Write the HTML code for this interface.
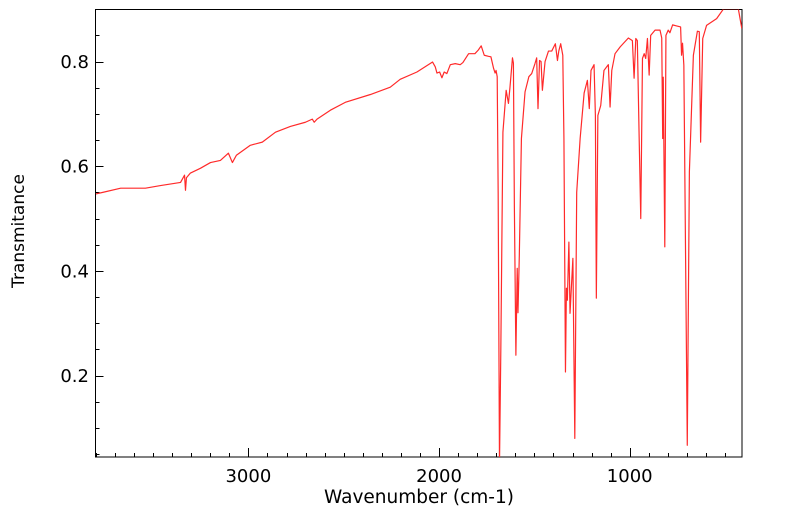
<!DOCTYPE html>
<html><head><meta charset="utf-8"><style>
html,body{margin:0;padding:0;background:#fff;}
svg{display:block;font-family:"DejaVu Sans","Liberation Sans",sans-serif;}
</style></head>
<body>
<svg id="chart" width="799" height="516" viewBox="0 0 799 516" xmlns="http://www.w3.org/2000/svg">
<defs><clipPath id="plotclip"><rect x="95" y="9.5" width="647" height="447.5"/></clipPath></defs>
<rect x="95.5" y="9.5" width="646.5" height="447.5" fill="none" stroke="#000" stroke-width="1"/>
<g id="ticks"></g>
<path id="spectrum" clip-path="url(#plotclip)" fill="none" stroke="#ff2a2a" stroke-width="1.2" stroke-linejoin="round"/>
<text x="419" y="503" font-size="18.5" text-anchor="middle" fill="#000">Wavenumber (cm-1)</text>
<text transform="translate(24,231) rotate(-90)" font-size="17" text-anchor="middle" fill="#000">Transmitance</text>
</svg>
<script>
const wavenumbers = [3800,3764,3670,3540,3461,3356,3335,3330,3325,3304,3252,3199,3147,3105,3084,3063,2990,2927,2858,2780,2701,2665,2655,2640,2570,2492,2360,2256,2204,2116,2034,2020,2011,1997,1985,1973,1959,1941,1915,1889,1875,1845,1812,1794,1779,1763,1741,1728,1714,1706,1701,1695,1690,1683,1676,1665,1648,1636,1628,1615,1610,1605,1597,1590,1586,1579,1568,1549,1529,1514,1497,1488,1481,1473,1465,1458,1444,1426,1409,1390,1379,1372,1362,1351,1345,1337,1332,1327,1319,1313,1298,1288,1278,1260,1239,1222,1212,1203,1187,1180,1175,1167,1152,1135,1112,1103,1094,1077,1050,1007,986,977,968,960,951,942,933,924,916,907,898,890,867,841,832,827,824,816,810,798,789,775,754,733,728,723,716,698,687,666,645,635,628,617,597,544,509,430,412];
const transmittance = [0.547,0.55,0.558,0.558,0.563,0.569,0.583,0.554,0.578,0.587,0.596,0.607,0.611,0.625,0.607,0.621,0.64,0.646,0.665,0.676,0.684,0.69,0.684,0.69,0.707,0.722,0.737,0.751,0.766,0.78,0.799,0.79,0.778,0.78,0.769,0.78,0.777,0.794,0.796,0.794,0.798,0.815,0.815,0.822,0.83,0.812,0.81,0.809,0.787,0.778,0.783,0.771,0.55,0.03,0.25,0.665,0.745,0.72,0.751,0.807,0.797,0.525,0.239,0.405,0.32,0.43,0.653,0.742,0.771,0.777,0.796,0.807,0.71,0.802,0.8,0.745,0.8,0.82,0.82,0.834,0.802,0.82,0.834,0.812,0.653,0.207,0.367,0.344,0.455,0.319,0.424,0.08,0.55,0.653,0.74,0.764,0.71,0.783,0.794,0.697,0.348,0.697,0.716,0.783,0.794,0.713,0.783,0.815,0.828,0.845,0.84,0.768,0.844,0.84,0.665,0.5,0.806,0.815,0.806,0.844,0.774,0.85,0.86,0.86,0.845,0.653,0.77,0.446,0.85,0.86,0.855,0.87,0.868,0.866,0.812,0.835,0.793,0.067,0.589,0.812,0.858,0.857,0.646,0.844,0.869,0.882,0.9,0.9,0.863];
const xMajorTicks = [3000,2000,1000];
const xTickLabels = ["3000","2000","1000"];
const yMajorTicks = [0.2,0.4,0.6,0.8];
const yTickLabels = ["0.2","0.4","0.6","0.8"];

const X0=95.5, X1=742, Y0=9.5, Y1=457;
const WN_LEFT=3802, WN_RIGHT=411, T_TOP=0.8994, T_BOT=0.0445;
function xs(w){return X0+(WN_LEFT-w)/(WN_LEFT-WN_RIGHT)*(X1-X0);}
function ys(t){return Y0+(T_TOP-t)/(T_TOP-T_BOT)*(Y1-Y0);}
const NS="http://www.w3.org/2000/svg";
let d="";
for(let i=0;i<wavenumbers.length;i++){d+=(i?"L":"M")+xs(wavenumbers[i]).toFixed(2)+","+ys(transmittance[i]).toFixed(2);}
document.getElementById("spectrum").setAttribute("d",d);
const g=document.getElementById("ticks");
function line(x1,y1,x2,y2,name){const l=document.createElementNS(NS,"line");l.setAttribute("x1",x1);l.setAttribute("y1",y1);l.setAttribute("x2",x2);l.setAttribute("y2",y2);l.setAttribute("stroke","#000");l.setAttribute("stroke-width","1");


g.appendChild(l);}
function text(x,y,s,anchor,name){const t=document.createElementNS(NS,"text");t.setAttribute("x",x);t.setAttribute("y",y);t.setAttribute("font-size","18");t.setAttribute("text-anchor",anchor);t.textContent=s;


g.appendChild(t);}
for(let w=500;w<=3800;w+=100){const x=Math.round(xs(w))+0.5;const major=w%1000===0;line(x,Y1,x,Y1-(major?9:4),major?"x-major-tick":"x-minor-tick");}
xMajorTicks.forEach((w,i)=>text(xs(w),482,xTickLabels[i],"middle","x-tick-label"));
for(let k=1;k<=17;k++){const t=k*0.05;const y=Math.round(ys(t))+0.5;const major=(k%4===0);line(X0,y,X0+(major?8:4),y,major?"y-major-tick":"y-minor-tick");}
yMajorTicks.forEach((t,i)=>text(89,ys(t)+6.5,yTickLabels[i],"end","y-tick-label"));
</script>
</body></html>
